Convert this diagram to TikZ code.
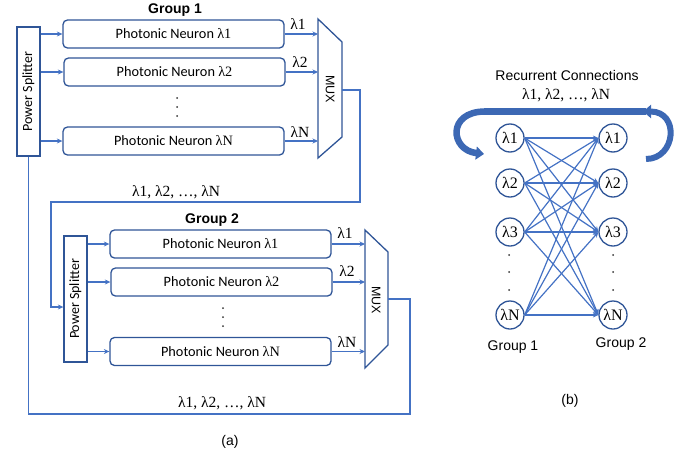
\documentclass[tikz,border=0pt]{standalone}
\usepackage{fontspec}
\setmainfont{Liberation Serif}
\setsansfont{Liberation Sans}
\newfontfamily\calib{Carlito}
\usetikzlibrary{arrows.meta}

\definecolor{lineblue}{HTML}{4472C4}
\definecolor{edgeblue}{HTML}{2F5597}
\definecolor{bandblue}{HTML}{3C68B4}

\begin{document}
\begin{tikzpicture}[x=1pt,y=-1pt,
  neuron/.style={draw=edgeblue, line width=1.3pt, rounded corners=4.5pt,
    minimum width=221pt, minimum height=28pt, inner sep=0pt,
    font=\calib\fontsize{14.3}{16}\selectfont},
  splitter/.style={draw=edgeblue, line width=1.3pt, minimum width=23pt,
    inner sep=0pt, font=\calib\fontsize{14}{16}\selectfont},
  muxbody/.style={draw=edgeblue, line width=1.3pt, line join=miter},
  muxtext/.style={inner sep=0pt, font=\sffamily\fontsize{12.5}{14}\selectfont},
  sig/.style={draw=lineblue, line width=1.3pt, -{Stealth[length=5.5pt,width=5pt]}},
  wire/.style={draw=lineblue, line width=1.3pt},
  lam/.style={inner sep=0pt, font=\fontsize{15.5}{17}\selectfont},
  title/.style={inner sep=0pt, font=\sffamily\bfseries\fontsize{14}{16}\selectfont},
  plain/.style={inner sep=0pt, font=\sffamily\fontsize{14}{16}\selectfont},
  circ/.style={circle, draw=edgeblue, line width=1.3pt, minimum size=28pt,
    inner sep=0pt, font=\fontsize{16}{17}\selectfont},
  dot/.style={fill=black!80},
  band/.style={draw=bandblue, line width=6.5pt}
]
\useasboundingbox (0,0) rectangle (679,455);

% ---------------- (a) Group 1 ----------------
\node[title] (g1) at (175,10) {Group 1};
\node[splitter, minimum height=129pt] (ps1) at (28.5,91.5) {\rotatebox{90}{Power Splitter}};
\node[neuron] (n11) at (173.5,34) {Photonic Neuron {\rmfamily λ1}};
\node[neuron] (n12) at (174.5,72) {Photonic Neuron {\rmfamily λ2}};
\node[neuron] (n1N) at (173.5,141) {Photonic Neuron {\rmfamily λN}};
\foreach \y in {98,107,116} \fill[dot] (177,\y) circle (1pt);

\foreach \n in {n11,n12,n1N} \draw[sig] (ps1.east |- \n.west) -- (\n.west);

\draw[muxbody] (318,19) -- (342,42) -- (342,137) -- (318,158) -- cycle;
\node[muxtext] (mux1) at (330,89) {\rotatebox{-90}{MUX}};
\coordinate (m1l) at (318,90);
\coordinate (m1o) at (342,90);
\foreach \n in {n11,n12,n1N} \draw[sig] (\n.east) -- (\n.east -| m1l);
\node[lam] (o11) at (298,24) {λ1};
\node[lam] (o12) at (300,62) {λ2};
\node[lam] (o1N) at (300,132) {λN};

% ---------------- (a) Group 2 ----------------
\node[title] (g2) at (212,220) {Group 2};
\node[splitter, minimum height=126pt] (ps2) at (75.5,299) {\rotatebox{90}{Power Splitter}};
\node[neuron] (n21) at (220.5,244) {Photonic Neuron {\rmfamily λ1}};
\node[neuron] (n22) at (221.5,282) {Photonic Neuron {\rmfamily λ2}};
\node[neuron] (n2N) at (220.5,351.5) {Photonic Neuron {\rmfamily λN}};
\foreach \y in {308,317,326} \fill[dot] (223,\y) circle (1pt);

\foreach \n in {n21,n22,n2N} \draw[sig] (ps2.east |- \n.west) -- (\n.west);

\draw[muxbody] (365,230) -- (388,252) -- (388,345) -- (365,368) -- cycle;
\node[muxtext] (mux2) at (376,300) {\rotatebox{-90}{MUX}};
\coordinate (m2l) at (365,299);
\coordinate (m2o) at (388,299);
\foreach \n in {n21,n22,n2N} \draw[sig] (\n.east) -- (\n.east -| m2l);
\node[lam] (o21) at (345,233) {λ1};
\node[lam] (o22) at (347,271) {λ2};
\node[lam] (o2N) at (347,342) {λN};

% ---------------- (a) feedback paths ----------------
\coordinate (in2) at (51,307);
\draw[sig] (m1o) -- (360,90) -- (360,202) -- (51,202) -- (in2) -- (ps2.west |- in2);
\node[lam] (w1) at (176,192) {λ1, λ2, …, λN};

\draw[wire] (m2o) -- (410,299) -- (410,414) -- (ps1.south |- 0,414) -- (ps1.south);
\node[lam] (w2) at (222,403) {λ1, λ2, …, λN};

\node[plain] (capa) at (230,442) {(a)};

% ---------------- (b) recurrent connections ----------------
\node[plain] (rc) at (567,75) {Recurrent Connections};
\node[lam] (rcl) at (566,95) {λ1, λ2, …, λN};

\draw[band] (646,111.5) -- (484,111.5);
\draw[band, -{Triangle[length=8pt,width=13pt]}]
  (485,111.5) .. controls (447,111.5) and (450,150) .. (484,154);
\draw[band, line width=6pt, -{Triangle[length=8pt,width=13pt]}]
  (646,159) .. controls (676,159) and (680,111.5) .. (643,111.5);

\node[circ] (a1) at (510,138) {λ1};
\node[circ] (a2) at (510,183) {λ2};
\node[circ] (a3) at (510,232) {λ3};
\node[circ] (aN) at (510,315) {λN};
\node[circ] (b1) at (613,138) {λ1};
\node[circ] (b2) at (613,183) {λ2};
\node[circ] (b3) at (613,232) {λ3};
\node[circ] (bN) at (613,315) {λN};
\foreach \y in {255,272,290} {
  \fill[dot] (509,\y) circle (1pt);
  \fill[dot] (613,\y) circle (1pt);
}

\foreach \s in {a1,a2,a3,aN}
  \foreach \t in {b1,b2,b3,bN}
    \draw[sig, line width=1.2pt] (\s.east) -- (\t.west);

\node[plain] (gb1) at (513,347) {Group 1};
\node[plain] (gb2) at (621,344) {Group 2};
\node[plain] (capb) at (570,401) {(b)};
\end{tikzpicture}
\end{document}
